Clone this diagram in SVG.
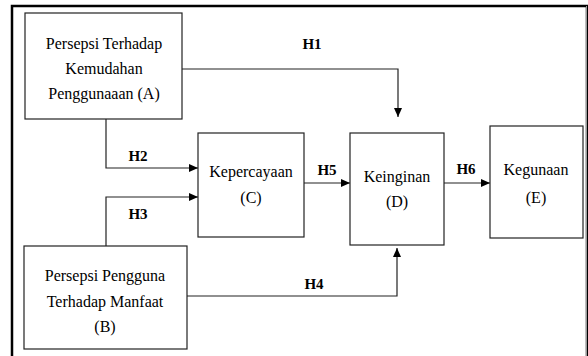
<svg xmlns="http://www.w3.org/2000/svg" width="588" height="356" viewBox="0 0 588 356" font-family="Liberation Serif, Times New Roman, Tinos, Noto Serif, DejaVu Serif, FreeSerif, serif">
<defs>
<style>
.box{fill:#fff;stroke:#222;stroke-width:1.2}
.t{font-size:16px;fill:#000;text-anchor:middle}
.h{font-size:15px;font-weight:bold;fill:#000;text-anchor:middle}
.ln{fill:none;stroke:#222;stroke-width:1.2}
</style>
<marker id="ar" markerWidth="9" markerHeight="8" refX="9" refY="4" orient="auto" markerUnits="userSpaceOnUse">
<path d="M0,0 L9,4 L0,8 Z" fill="#000"/>
</marker>
</defs>
<rect x="0" y="0" width="588" height="356" fill="#fff"/>
<path d="M12,356 V6 H587 V356" fill="none" stroke="#000" stroke-width="2.5"/>
<line x1="586.5" y1="6" x2="586.5" y2="356" stroke="#999" stroke-width="1"/>
<g id="connectors">
<path class="ln" d="M182,69 H398 V117" marker-end="url(#ar)"/>
<path class="ln" d="M106,119 V168 H198" marker-end="url(#ar)"/>
<path class="ln" d="M106,246 V197 H198" marker-end="url(#ar)"/>
<path class="ln" d="M187,296 H397 V248" marker-end="url(#ar)"/>
<path class="ln" d="M304,183 H350" marker-end="url(#ar)"/>
<path class="ln" d="M444,183 H490" marker-end="url(#ar)"/>
<text class="h" x="312" y="49" font-family="Liberation Serif, serif">H1</text>
<text class="h" x="138" y="161" font-family="Liberation Serif, serif">H2</text>
<text class="h" x="138" y="219" font-family="Liberation Serif, serif">H3</text>
<text class="h" x="314" y="289" font-family="Liberation Serif, serif">H4</text>
<text class="h" x="327" y="175" font-family="Liberation Serif, serif">H5</text>
<text class="h" x="466" y="174" font-family="Liberation Serif, serif">H6</text>
</g>
<g id="nodeA">
<rect class="box" x="25" y="13" width="157" height="106"/>
<text class="t" x="104" y="49">Persepsi Terhadap</text>
<text class="t" x="104" y="74">Kemudahan</text>
<text class="t" x="104" y="99">Penggunaaan (A)</text>
</g>
<g id="nodeB">
<rect class="box" x="24" y="246" width="163" height="103"/>
<text class="t" x="105" y="281">Persepsi Pengguna</text>
<text class="t" x="105" y="307">Terhadap Manfaat</text>
<text class="t" x="105" y="332">(B)</text>
</g>
<g id="nodeC">
<rect class="box" x="198" y="133" width="106" height="104"/>
<text class="t" x="251" y="177">Kepercayaan</text>
<text class="t" x="251" y="203">(C)</text>
</g>
<g id="nodeD">
<rect class="box" x="350" y="133" width="94" height="112"/>
<text class="t" x="397" y="182">Keinginan</text>
<text class="t" x="397" y="207">(D)</text>
</g>
<g id="nodeE">
<rect class="box" x="490" y="126" width="93" height="112"/>
<text class="t" x="536" y="175">Kegunaan</text>
<text class="t" x="536" y="203">(E)</text>
</g>
</svg>
